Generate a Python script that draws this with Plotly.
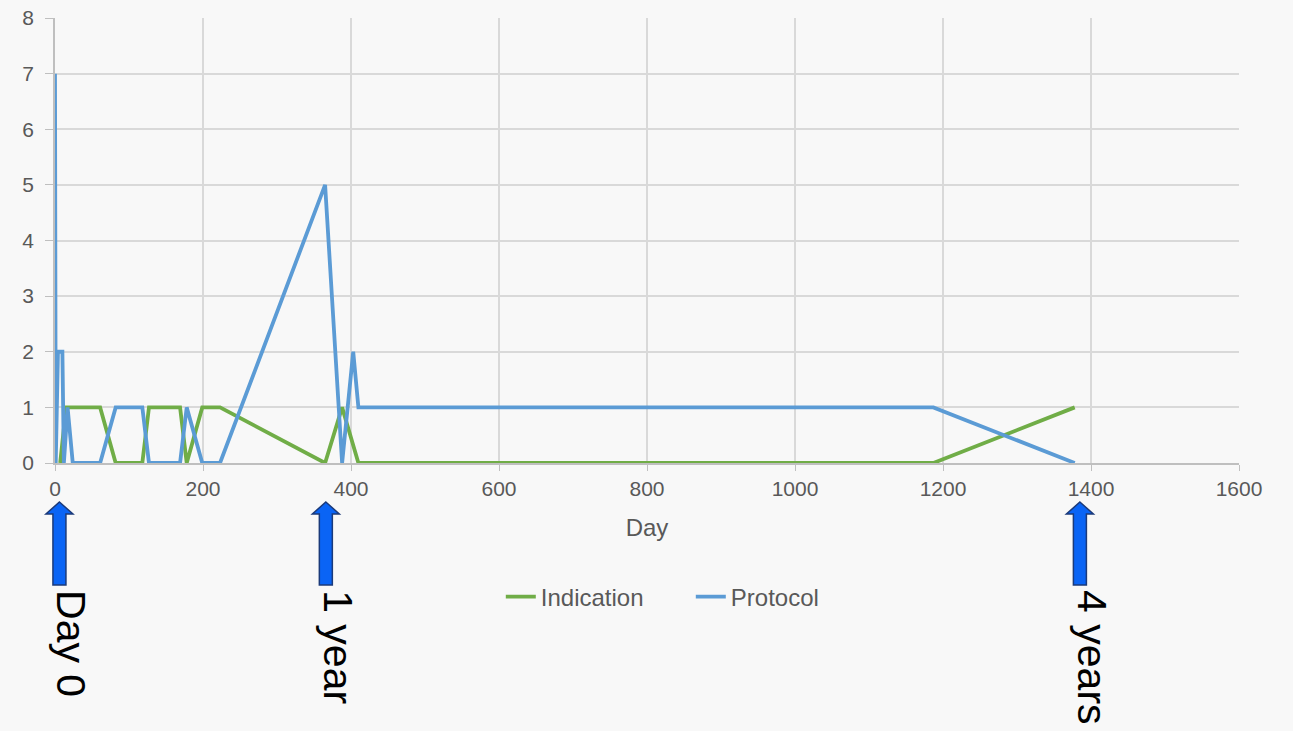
import plotly.graph_objects as go

# ---- data ----
protocol_day = [0, 1, 4, 10, 12, 17, 24, 61, 82, 118, 127, 169, 178, 199, 223, 365, 388, 403, 410, 1187, 1378]
protocol_val = [7, 0, 2, 2, 0, 1, 0, 0, 1, 1, 0, 0, 1, 0, 0, 5, 0, 2, 1, 1, 0]

indication_day = [7, 15, 61, 82, 118, 127, 169, 178, 199, 223, 365, 388, 410, 1187, 1378]
indication_val = [0, 1, 1, 0, 0, 1, 1, 0, 1, 1, 0, 1, 0, 0, 1]

marker_day = [6, 366, 1385]
marker_text = ["Day 0", "1 year", "4 years"]

x_ticks = [0, 200, 400, 600, 800, 1000, 1200, 1400, 1600]
y_ticks = [0, 1, 2, 3, 4, 5, 6, 7, 8]

XMAX = 1600

GREEN = "#70ad47"
BLUE = "#5b9bd5"
GRAY = "#595959"
BG = "#f8f8f8"

fig = go.Figure()
fig.add_trace(go.Scatter(x=indication_day, y=indication_val, mode="lines", name="Indication",
                         line=dict(color=GREEN, width=3.8)))
fig.add_trace(go.Scatter(x=protocol_day, y=protocol_val, mode="lines", name="Protocol",
                         line=dict(color=BLUE, width=3.8)))

# block arrows (paper coordinates derived from the marker days)
shapes = []
annotations = []
hw_head = 13.5 / 1184   # half width of head in paper units
hw_shaft = 6.5 / 1184
y_tip = -39 / 445
y_head = -51 / 445
y_bot = -122 / 445
for d, t in zip(marker_day, marker_text):
    xc = d / XMAX
    path = (f"M {xc},{y_tip} L {xc + hw_head},{y_head} L {xc + hw_shaft},{y_head} "
            f"L {xc + hw_shaft},{y_bot} L {xc - hw_shaft},{y_bot} L {xc - hw_shaft},{y_head} "
            f"L {xc - hw_head},{y_head} Z")
    shapes.append(dict(type="path", xref="paper", yref="paper", path=path,
                       fillcolor="#0a64f5", line=dict(color="#1b3a7a", width=1.5), layer="above"))
    annotations.append(dict(x=d, y=-125 / 445, xref="x", yref="paper", text=t, showarrow=False,
                            textangle=90, xanchor="center", yanchor="top", xshift=12,
                            font=dict(family="Liberation Sans, Arial, sans-serif",
                                      size=41, color="black")))

fig.update_layout(
    width=1293, height=731,
    paper_bgcolor=BG, plot_bgcolor=BG,
    margin=dict(l=55, r=54, t=18, b=268, autoexpand=False),
    font=dict(family="Liberation Sans, Arial, sans-serif", size=22, color=GRAY),
    showlegend=True,
    legend=dict(orientation="h", x=0.537, xanchor="center", y=-134 / 445, yanchor="middle",
                font=dict(size=24, color=GRAY), bgcolor="rgba(0,0,0,0)",
                entrywidth=145, entrywidthmode="pixels"),
    xaxis=dict(range=[0, XMAX], tickmode="array", tickvals=x_ticks, ticktext=[str(v) for v in x_ticks],
               showgrid=True, gridcolor="#d9d9d9", gridwidth=1.5, zeroline=False,
               showline=True, linecolor="#bfbfbf", linewidth=1.5, automargin=False,
               ticks="outside", ticklen=6, tickcolor="#bfbfbf",
               tickfont=dict(size=21, color=GRAY),
               title=dict(text="Day", font=dict(size=24, color=GRAY), standoff=20)),
    yaxis=dict(range=[0, 8], tickmode="array", tickvals=y_ticks, ticktext=[str(v) for v in y_ticks],
               showgrid=True, gridcolor="#d9d9d9", gridwidth=1.5, zeroline=False,
               showline=True, linecolor="#bfbfbf", linewidth=1.5, automargin=False,
               ticks="outside", ticklen=8, tickcolor="#bfbfbf",
               tickfont=dict(size=21, color=GRAY), ticklabelstandoff=7),
    shapes=shapes,
    annotations=annotations,
)

fig.write_html("out.html", post_script="document.body.style.margin='0';",
               config={"displayModeBar": False})
